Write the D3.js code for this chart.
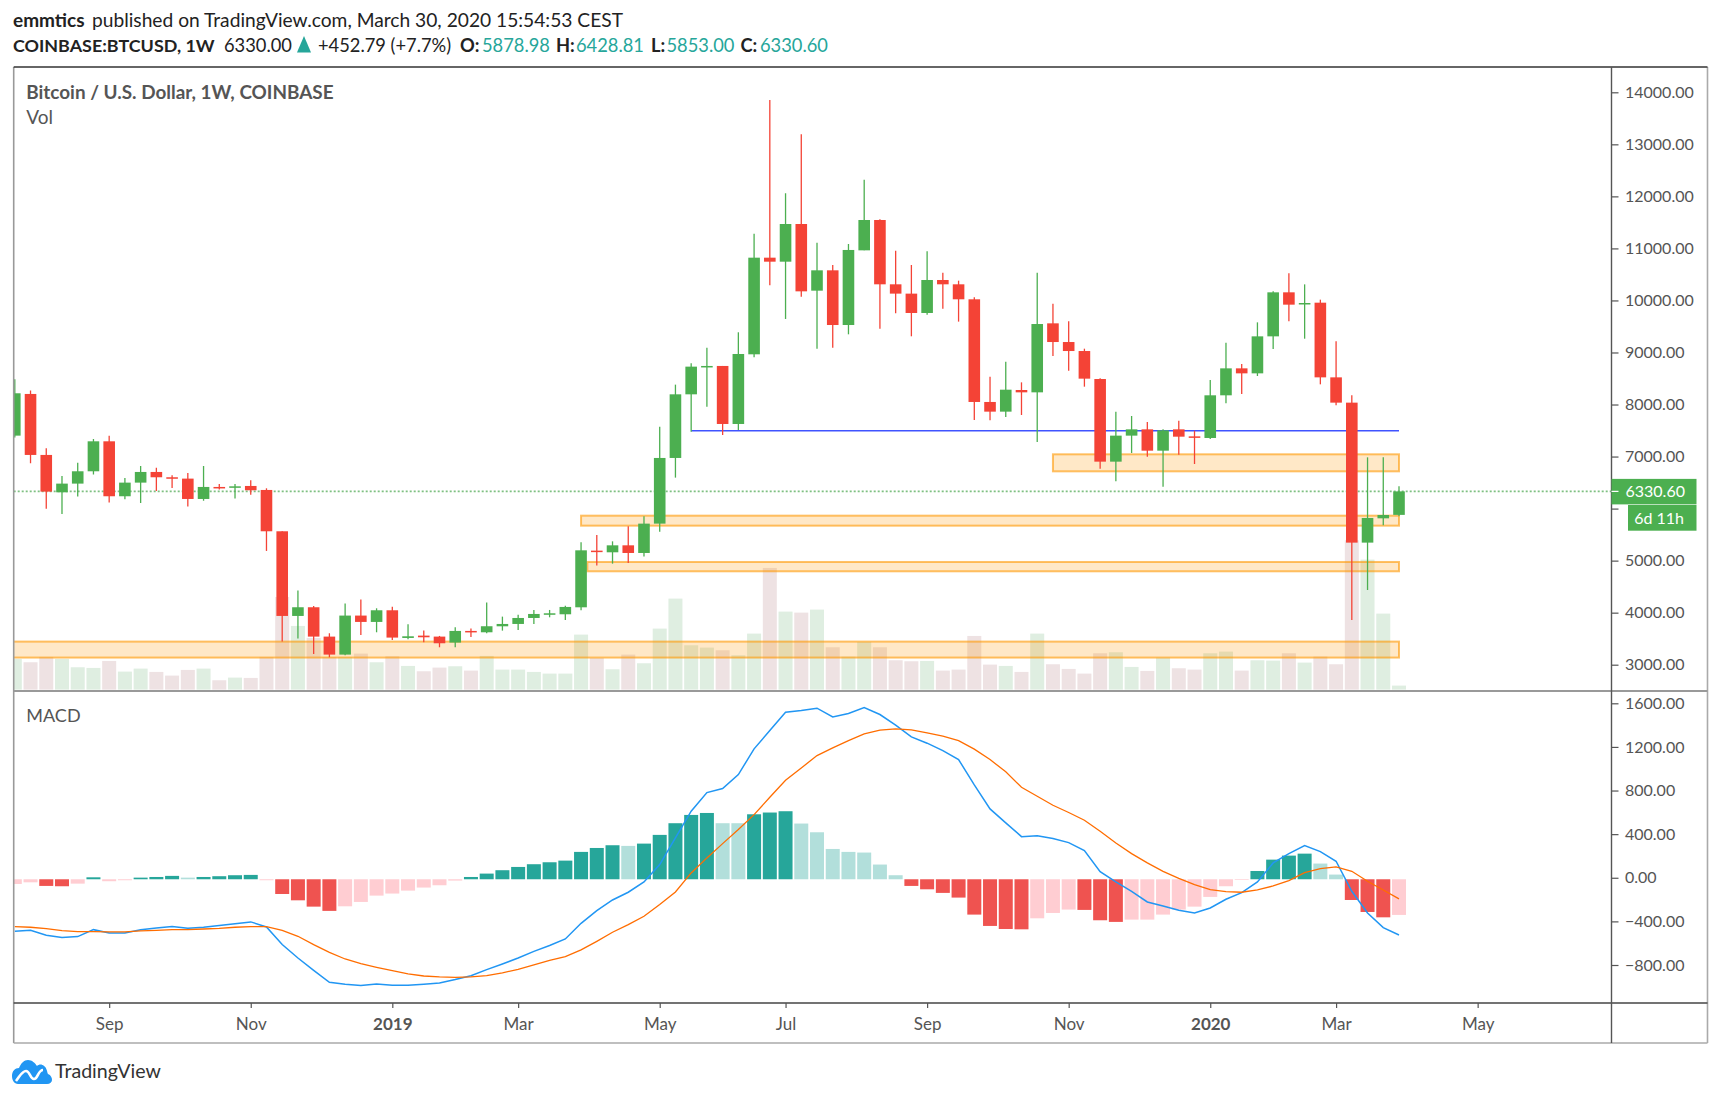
<!DOCTYPE html>
<html lang="en">
<head>
<meta charset="utf-8">
<title>BTCUSD 1W</title>
<script src="https://d3js.org/d3.v7.min.js"></script>
<style>
  html, body { margin: 0; background: #fff; }
  svg { display: block; font-family: Lato, "Open Sans", sans-serif; }
</style>
</head>
<body>
<div id="chart"></div>
<script>
// weekly candles (bar 0 is cut by the left edge)
var opens = [7402,8203,7031,6313,6480,6717,7293,6237,6499,6704,6602,6576,6185,6416,6403,6435,6358,5564,3937,4104,3540,3194,3944,3822,4046,3514,3559,3540,3425,3649,
  3623,3738,3783,3898,3962,3969,4103,5192,5160,5294,5147,5711,6973,8196,8728,8741,7626,8965,10822,10745,11469,10188,10579,9528,10963,11546,10310,10131,9759,10393,
  10310,10022,8049,7863,8279,8234,9560,9201,9028,8490,6902,7402,7523,7113,7523,7388,7357,8177,8695,8599,9310,10156,9925,9957,8522,8036,5346,5813,5878.98];
var highs = [8485,8267,7159,6627,6883,7338,7402,6589,6819,6787,6640,6685,6819,6473,6473,6544,6390,5564,4424,4129,3604,4174,4251,4084,4116,3777,3655,3553,3719,3694,
  4193,3924,3962,4052,4052,4135,5352,5493,5371,5660,5852,7575,8382,8792,9093,8741,9388,11283,13852,12058,13192,11111,10681,11085,12321,11559,10957,10681,10944,10534,
  10380,10060,8535,8824,8426,10534,9938,9598,9073,8503,7863,7779,7664,7523,7690,7498,8471,9189,8779,9579,10175,10521,10309,10015,9214,8177,6985,6985,6428.81];
var lows = [7364,6871,5999,5897,6230,6653,6115,6179,6108,6339,6397,6038,6153,6365,6192,6268,5186,3444,3502,3207,3143,3181,3572,3623,3476,3489,3431,3335,3335,3534,
  3604,3655,3668,3783,3911,3860,4045,4904,4942,4955,5077,5557,6595,7479,7959,7414,7510,8907,10291,9644,10073,9074,9093,9349,10963,9458,9753,9311,9727,9842,
  9593,7703,7696,7760,7799,7280,8932,8651,8343,6767,6524,7068,6998,6422,7036,6857,7338,8023,8202,8548,9067,9598,9265,8388,7984,3860,4436,5679,5853];
var closes = [8216,7031,6326,6480,6717,7293,6237,6499,6704,6602,6576,6185,6416,6390,6428,6352,5564,3937,4104,3540,3194,3944,3822,4046,3521,3546,3527,3412,3649,3623,
  3739,3783,3898,3975,3988,4110,5198,5173,5294,5147,5711,6973,8196,8728,8741,7626,8971,10822,10745,11469,10175,10579,9528,10970,11546,10310,10131,9759,10393,10310,
  10022,8049,7863,8285,8234,9547,9201,9028,8497,6902,7402,7523,7113,7504,7382,7363,8177,8695,8599,9310,10156,9919,9951,8522,8036,5346,5820,5877,6330.6];
var volumes = [92,82,98,92,67,65,86,54,63,53,42,59,63,28,36,35,98,278,191,155,98,98,108,82,100,71,55,66,70,57,
  101,60,60,53,48,48,165,95,61,105,79,183,273,133,126,118,103,168,365,234,231,240,127,99,143,127,88,85,86,57,
  60,161,75,71,53,168,76,62,48,109,112,68,56,96,64,60,109,114,57,88,87,109,81,99,76,448,390,228,12];

// MACD pane
var macdLine = [-477,-468,-514,-535,-526,-462,-492,-492,-462,-446,-434,-450,-440,-425,-407,-391,-437,-599,-722,-835,-945,-963,-975,-960,-972,-972,-963,-951,-920,-884,
  -829,-777,-722,-661,-608,-547,-404,-287,-190,-119,-24,135,379,624,795,832,960,1196,1364,1532,1547,1569,1489,1520,1575,1511,1413,1306,1248,1180,
  1098,865,645,517,391,398,373,336,263,70,-24,-110,-208,-245,-284,-309,-263,-183,-122,-24,150,235,309,254,165,-110,-309,-443,-511];
var signalLine = [-434,-440,-453,-471,-480,-480,-483,-483,-474,-468,-462,-462,-456,-450,-440,-434,-434,-468,-523,-599,-670,-731,-774,-807,-838,-868,-887,-896,-899,-896,
  -884,-859,-826,-786,-743,-709,-648,-569,-486,-416,-339,-232,-116,58,196,327,456,593,752,908,1021,1134,1205,1272,1333,1367,1379,1370,1342,1312,
  1272,1193,1098,985,844,761,679,612,541,440,333,235,150,73,9,-49,-95,-113,-119,-98,-61,-12,61,98,113,73,-18,-98,-180];
var histogram = [-43,-28,-61,-64,-40,18,-18,-9,15,21,31,15,21,28,37,40,-9,-135,-193,-251,-290,-248,-208,-150,-131,-104,-76,-55,-12,21,
  52,83,113,138,156,171,251,287,312,306,327,407,514,590,608,514,514,596,612,624,511,431,278,251,245,135,37,-61,-92,-125,
  -168,-324,-428,-456,-459,-358,-309,-278,-281,-376,-391,-370,-370,-324,-278,-251,-162,-64,-6,76,180,217,235,144,43,-190,-300,-349,-327];
var paleBars = [0,1,4,6,7,11,16,21,22,23,24,25,26,27,28,39,45,46,50,51,52,53,54,55,56,65,66,67,71,72,73,74,75,76,77,78,83,84,88];

// axis labels
var priceTicks = [3000,4000,5000,6000,7000,8000,9000,10000,11000,12000,13000,14000];
var macdTicks = [1600,1200,800,400,0,-400,-800];
var timeTickBars = [6,15,24,32,41,49,58,67,76,84,93];
var timeTickLabels = ["Sep","Nov","2019","Mar","May","Jul","Sep","Nov","2020","Mar","May"];

// drawn zones: [first bar, last bar, top price, bottom price]
var zoneBars = [[-2,88],[36.4,88],[36,88],[66,88]];
var zonePrices = [[3444,3137],[4974,4795],[5864,5672],[7043,6716]];
var supportBars = [43,88];
var supportPrice = 7498;
var lastClose = 6330.6;

var width = 1720, height = 1094;
var left = 13.7, right = 1611.5, outer = 1707.5, top_ = 67, paneBottom = 691, macdBottom = 1003, bottom = 1043;
var green = "#4caf50", red = "#f44336", textGrey = "#555";

var svg = d3.select("#chart").append("svg").attr("width", width).attr("height", height);

var x = d3.scaleLinear().domain([0, 88]).range([14.8, 1399]);
var yPrice = d3.scaleLinear().domain([14000, 3000]).range([92.3, 664.7]);
var yMacd = d3.scaleLinear().domain([1600, -800]).range([704.8, 966.5]);
var yVol = d3.scaleLinear().domain([0, 1000]).range([689.6, 356.3]);

var bars = d3.range(opens.length);

svg.append("clipPath").attr("id", "pricePane").append("rect")
  .attr("x", left).attr("y", top_).attr("width", right - left).attr("height", paneBottom - top_);
svg.append("clipPath").attr("id", "macdPane").append("rect")
  .attr("x", left).attr("y", paneBottom).attr("width", right - left).attr("height", macdBottom - paneBottom);

var pane = svg.append("g").attr("clip-path", "url(#pricePane)");

// volume sits at the very back
pane.selectAll(".vol").data(bars).enter().append("rect")
  .attr("x", function(i) { return x(i) - 7; })
  .attr("y", function(i) { return yVol(volumes[i]); })
  .attr("width", 14)
  .attr("height", function(i) { return yVol(0) - yVol(volumes[i]); })
  .attr("fill", function(i) { return closes[i] >= opens[i] ? "#dfeee1" : "#eee2e3"; });

// zones
pane.selectAll(".zone").data(zonePrices).enter().append("rect")
  .attr("x", function(d, k) { return x(zoneBars[k][0]); })
  .attr("y", function(d) { return yPrice(d[0]); })
  .attr("width", function(d, k) { return x(zoneBars[k][1]) - x(zoneBars[k][0]); })
  .attr("height", function(d) { return yPrice(d[1]) - yPrice(d[0]); })
  .attr("fill", "rgba(255,152,0,0.22)")
  .attr("stroke", "rgba(255,152,0,0.6)")
  .attr("stroke-width", 2);

pane.append("line")
  .attr("x1", x(supportBars[0])).attr("x2", x(supportBars[1]))
  .attr("y1", yPrice(supportPrice)).attr("y2", yPrice(supportPrice))
  .attr("stroke", "#4053ff").attr("stroke-width", 1.5);

pane.append("line")
  .attr("x1", left).attr("x2", right)
  .attr("y1", yPrice(lastClose)).attr("y2", yPrice(lastClose))
  .attr("stroke", "#7fc082").attr("stroke-width", 1.8).attr("stroke-dasharray", "2 2");

// candles
pane.selectAll(".wick").data(bars).enter().append("line")
  .attr("x1", function(i) { return x(i); })
  .attr("x2", function(i) { return x(i); })
  .attr("y1", function(i) { return yPrice(highs[i]); })
  .attr("y2", function(i) { return yPrice(lows[i]); })
  .attr("stroke", function(i) { return closes[i] >= opens[i] ? green : red; })
  .attr("stroke-width", 1.3);

pane.selectAll(".body").data(bars).enter().append("rect")
  .attr("x", function(i) { return x(i) - 5.8; })
  .attr("y", function(i) { return yPrice(Math.max(opens[i], closes[i])); })
  .attr("width", 11.6)
  .attr("height", function(i) { return Math.max(1.5, Math.abs(yPrice(opens[i]) - yPrice(closes[i]))); })
  .attr("fill", function(i) { return closes[i] >= opens[i] ? green : red; });

// MACD histogram and lines
var macdPane = svg.append("g").attr("clip-path", "url(#macdPane)");
macdPane.selectAll(".hist").data(bars).enter().append("rect")
  .attr("x", function(i) { return x(i) - 7; })
  .attr("y", function(i) { return Math.min(yMacd(histogram[i]), yMacd(0)); })
  .attr("width", 14)
  .attr("height", function(i) { return Math.abs(yMacd(histogram[i]) - yMacd(0)); })
  .attr("fill", function(i) {
    var pale = paleBars.indexOf(i) >= 0;
    if (histogram[i] >= 0) return pale ? "#b2dfdb" : "#26a69a";
    return pale ? "#ffcdd2" : "#ef5350";
  });

var macdPath = d3.line().x(function(i) { return x(i); });
macdPane.append("path").datum(bars)
  .attr("d", macdPath.y(function(i) { return yMacd(macdLine[i]); }))
  .attr("fill", "none").attr("stroke", "#2196f3").attr("stroke-width", 1.5);
macdPane.append("path").datum(bars)
  .attr("d", macdPath.y(function(i) { return yMacd(signalLine[i]); }))
  .attr("fill", "none").attr("stroke", "#ff6d00").attr("stroke-width", 1.3);

// frame
function rule(x1, y1, x2, y2, color, w) {
  svg.append("line").attr("x1", x1).attr("y1", y1).attr("x2", x2).attr("y2", y2)
    .attr("stroke", color).attr("stroke-width", w);
}
rule(left, top_, left, bottom, "#999", 1.6);
rule(outer, top_, outer, bottom, "#aaa", 1.6);
rule(left, bottom, outer, bottom, "#aaa", 1.6);
rule(left, top_, outer, top_, "#333", 1.4);
rule(left, paneBottom, outer, paneBottom, "#999", 2);
rule(left, macdBottom, outer, macdBottom, "#444", 1.4);
rule(right, top_, right, bottom, "#555", 1.4);

// axes
function styleAxis(size) {
  return function(g) {
    g.select(".domain").remove();
    g.selectAll(".tick line").attr("stroke", "#555").attr("stroke-width", 1.2);
    g.selectAll(".tick text").attr("fill", textGrey).style("font-size", size + "px").style("font-family", "Lato");
  };
}
var priceAxis = d3.axisRight(yPrice).tickValues(priceTicks).tickSize(7).tickPadding(6.5)
  .tickFormat(function(d) { return d === 6000 ? "" : d.toFixed(2); });
svg.append("g").attr("transform", "translate(" + right + ",0)").call(priceAxis).call(styleAxis(16));

var macdAxis = d3.axisRight(yMacd).tickValues(macdTicks).tickSize(7).tickPadding(6.5)
  .tickFormat(function(d) { return d.toFixed(2).replace("-", "\u2212"); });
// labels and ticks sit a touch above the histogram zero line in the reference
svg.append("g").attr("transform", "translate(" + right + ",-1.5)").call(macdAxis).call(styleAxis(16));

var timeAxis = d3.axisBottom(x).tickValues(timeTickBars).tickSize(5).tickPadding(10)
  .tickFormat(function(d) { return timeTickLabels[timeTickBars.indexOf(d)]; });
svg.append("g").attr("transform", "translate(0," + macdBottom + ")").call(timeAxis).call(styleAxis(17))
  .selectAll(".tick text").style("font-weight", function(d, k) { return /^20/.test(timeTickLabels[k]) ? 700 : 400; });

// last price tags
svg.append("rect").attr("x", right).attr("y", yPrice(lastClose) - 12.5).attr("width", 85).attr("height", 25.5).attr("fill", green);
rule(right, yPrice(lastClose), right + 7, yPrice(lastClose), "#fff", 1.2);
svg.append("rect").attr("x", 1628).attr("y", 505).attr("width", 68.5).attr("height", 25.7).attr("fill", green);

function label(px, py, str, opts) {
  opts = opts || {};
  return svg.append("text").attr("x", px).attr("y", py).text(str)
    .attr("fill", opts.fill || "#222")
    .attr("text-anchor", opts.anchor || "start")
    .style("font-size", (opts.size || 18.3) + "px")
    .style("font-weight", opts.bold ? 700 : 400);
}
label(1625.5, yPrice(lastClose) + 5.5, lastClose.toFixed(2), { fill: "#fff", size: 16 });
label(1684, 523.5, "6d 11h", { fill: "#fff", size: 16, anchor: "end" });

// header
var teal = "#26a69a";
label(13, 27, "emmtics", { bold: true, size: 19 });
label(92, 27, "published on TradingView.com, March 30, 2020 15:54:53 CEST", { size: 19.2 });
label(13, 52, "COINBASE:BTCUSD, 1W", { bold: true, size: 17.9 });
label(224, 52, "6330.00");
svg.append("path").attr("d", d3.symbol().type(d3.symbolTriangle).size(95))
  .attr("transform", "translate(304,47) scale(0.95,1.3)").attr("fill", teal);
label(318, 52, "+452.79 (+7.7%)");
label(460, 52, "O:", { bold: true });
label(482, 52, "5878.98", { fill: teal });
label(556, 52, "H:", { bold: true });
label(576, 52, "6428.81", { fill: teal });
label(651, 52, "L:", { bold: true });
label(666.5, 52, "5853.00", { fill: teal });
label(740.5, 52, "C:", { bold: true });
label(760, 52, "6330.60", { fill: teal });

label(26.3, 99, "Bitcoin / U.S. Dollar, 1W, COINBASE", { fill: "#555", bold: true, size: 18.9 });
label(26.3, 124, "Vol", { fill: "#555", size: 19 });
label(26.3, 722, "MACD", { fill: "#555", size: 18 });

// TradingView mark
var logo = svg.append("g").attr("transform", "translate(12,1059)");
logo.append("path").attr("fill", "#2196f3")
  .attr("d", "M0 17 C0 12 3 9 7 9 C9 4 12 1 16 1 C20 1 23 4 25 7 C27 5 30 5 32 7 C35 9 35 13 36 15 C39 16 40 19 40 21 C40 23 38 25 35 25 L6 25 C2 25 0 21 0 17 Z");
logo.append("path").attr("fill", "none").attr("stroke", "#fff").attr("stroke-width", 2.6)
  .attr("d", "M4 22 C8 17 10 12 14 12 C18 12 18 20 22 20 C26 20 26 11 31 11");
label(55, 1077.5, "TradingView", { fill: "#333", size: 19.6 });
</script>
</body>
</html>
